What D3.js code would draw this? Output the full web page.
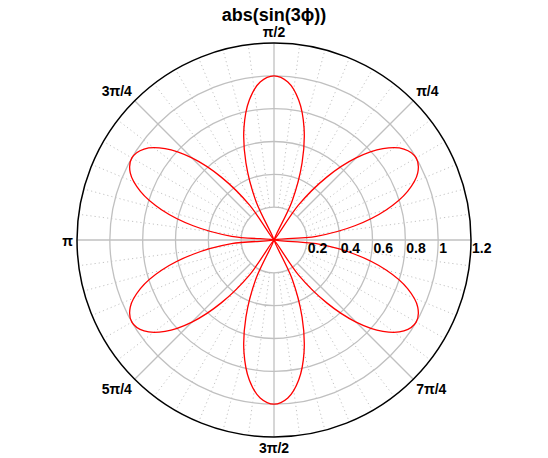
<!DOCTYPE html>
<html>
<head>
<meta charset="utf-8">
<script src="https://cdn.jsdelivr.net/npm/d3@7"></script>
<style>
  body { margin: 0; background: #fff; }
  text { font-family: "Liberation Sans", Arial, sans-serif; font-weight: bold; fill: #000; }
</style>
</head>
<body>
<svg id="chart" width="548" height="458"></svg>
<script>
// angle in degrees (counter-clockwise from 0)
const phiDeg = [
  0, 5, 10, 15, 20, 25, 30, 35, 40, 45, 50, 55,
  60, 65, 70, 75, 80, 85, 90, 95, 100, 105, 110, 115,
  120, 125, 130, 135, 140, 145, 150, 155, 160, 165, 170, 175,
  180, 185, 190, 195, 200, 205, 210, 215, 220, 225, 230, 235,
  240, 245, 250, 255, 260, 265, 270, 275, 280, 285, 290, 295,
  300, 305, 310, 315, 320, 325, 330, 335, 340, 345, 350, 355
];
const rho = [
  0, 0.259, 0.5, 0.707, 0.866, 0.966, 1, 0.966, 0.866, 0.707, 0.5, 0.259,
  0, 0.259, 0.5, 0.707, 0.866, 0.966, 1, 0.966, 0.866, 0.707, 0.5, 0.259,
  0, 0.259, 0.5, 0.707, 0.866, 0.966, 1, 0.966, 0.866, 0.707, 0.5, 0.259,
  0, 0.259, 0.5, 0.707, 0.866, 0.966, 1, 0.966, 0.866, 0.707, 0.5, 0.259,
  0, 0.259, 0.5, 0.707, 0.866, 0.966, 1, 0.966, 0.866, 0.707, 0.5, 0.259,
  0, 0.259, 0.5, 0.707, 0.866, 0.966, 1, 0.966, 0.866, 0.707, 0.5, 0.259
];

const rTicks = [0.2, 0.4, 0.6, 0.8, 1, 1.2];
const angleTicks = [0, 45, 90, 135, 180, 225, 270, 315];
const angleLabels = ["", "\u03c0/4", "\u03c0/2", "3\u03c0/4", "\u03c0", "5\u03c0/4", "3\u03c0/2", "7\u03c0/4"];
const title = "abs(sin(3\u03d5))";

const cx = 274, cy = 240, R = 197;
const rMax = 1.2, rMin = 0.2;

const svg = d3.select("#chart");
const g = svg.append("g").attr("transform", `translate(${cx},${cy})`);

const r = d3.scaleLinear().domain([0, rMax]).range([0, R]);
// d3 radial: 0 at 12 o'clock, clockwise
const a = d3.scaleLinear().domain([0, 360]).range([Math.PI / 2, Math.PI / 2 - 2 * Math.PI]);

const px = (deg, v) => r(v) * Math.cos(a(deg) - Math.PI / 2);
const py = (deg, v) => r(v) * Math.sin(a(deg) - Math.PI / 2);

// minor dotted spokes every 7.5 degrees
const minorAngles = d3.range(0, 360, 7.5).filter(d => d % 45 !== 0);
g.selectAll("line.minor")
  .data(minorAngles)
  .join("line")
  .attr("class", "minor")
  .attr("x1", d => px(d, rMin)).attr("y1", d => py(d, rMin))
  .attr("x2", d => px(d, rMax)).attr("y2", d => py(d, rMax))
  .attr("stroke", "#c4c4c4")
  .attr("stroke-width", 1)
  .attr("stroke-dasharray", "1.2,3");

// major spokes
g.selectAll("line.major")
  .data(angleTicks)
  .join("line")
  .attr("class", "major")
  .attr("x1", d => px(d, (d === 0 || d === 180) ? 0 : rMin))
  .attr("y1", d => py(d, (d === 0 || d === 180) ? 0 : rMin))
  .attr("x2", d => px(d, rMax)).attr("y2", d => py(d, rMax))
  .attr("stroke", "#c0c0c0")
  .attr("stroke-width", 1.3);

// rings
g.selectAll("circle.ring")
  .data(rTicks.filter(d => d < rMax))
  .join("circle")
  .attr("class", "ring")
  .attr("r", d => r(d))
  .attr("fill", "none")
  .attr("stroke", "#c0c0c0")
  .attr("stroke-width", 1.3);

g.append("circle")
  .attr("r", r(rMax))
  .attr("fill", "none")
  .attr("stroke", "#000")
  .attr("stroke-width", 1.5);

// curve
const pts = phiDeg.map((d, i) => [a(d), r(rho[i])]);
const line = d3.lineRadial().curve(d3.curveCatmullRomClosed.alpha(0.5));
g.append("path")
  .attr("d", line(pts))
  .attr("fill", "none")
  .attr("stroke", "#ff0000")
  .attr("stroke-width", 1.3);

// radial tick labels
g.selectAll("text.rtick")
  .data(rTicks)
  .join("text")
  .attr("class", "rtick")
  .attr("x", d => r(d) + 1)
  .attr("y", 13)
  .attr("font-size", 14)
  .text(d => d3.format("~g")(d));

// angle labels
g.selectAll("text.atick")
  .data(angleTicks.map((d, i) => ({ deg: d, label: angleLabels[i] })).filter(d => d.label))
  .join("text")
  .attr("class", "atick")
  .attr("font-size", 14)
  .each(function (d) {
    const rad = d.deg * Math.PI / 180;
    const c = Math.cos(rad), s = Math.sin(rad);
    const x = (R + 4) * c, y = -(R + 4) * s;
    const t = d3.select(this).attr("x", x).attr("y", y)
      .attr("text-anchor", c > 0.1 ? "start" : c < -0.1 ? "end" : "middle");
    if (s > 0.1) t.attr("dy", "-0.15em");
    else if (s < -0.1) t.attr("dy", "0.85em");
    else t.attr("dy", "0.45em");
  })
  .text(d => d.label);

svg.append("text")
  .attr("x", cx)
  .attr("y", 21)
  .attr("text-anchor", "middle")
  .attr("font-size", 18)
  .text(title);
</script>
</body>
</html>
